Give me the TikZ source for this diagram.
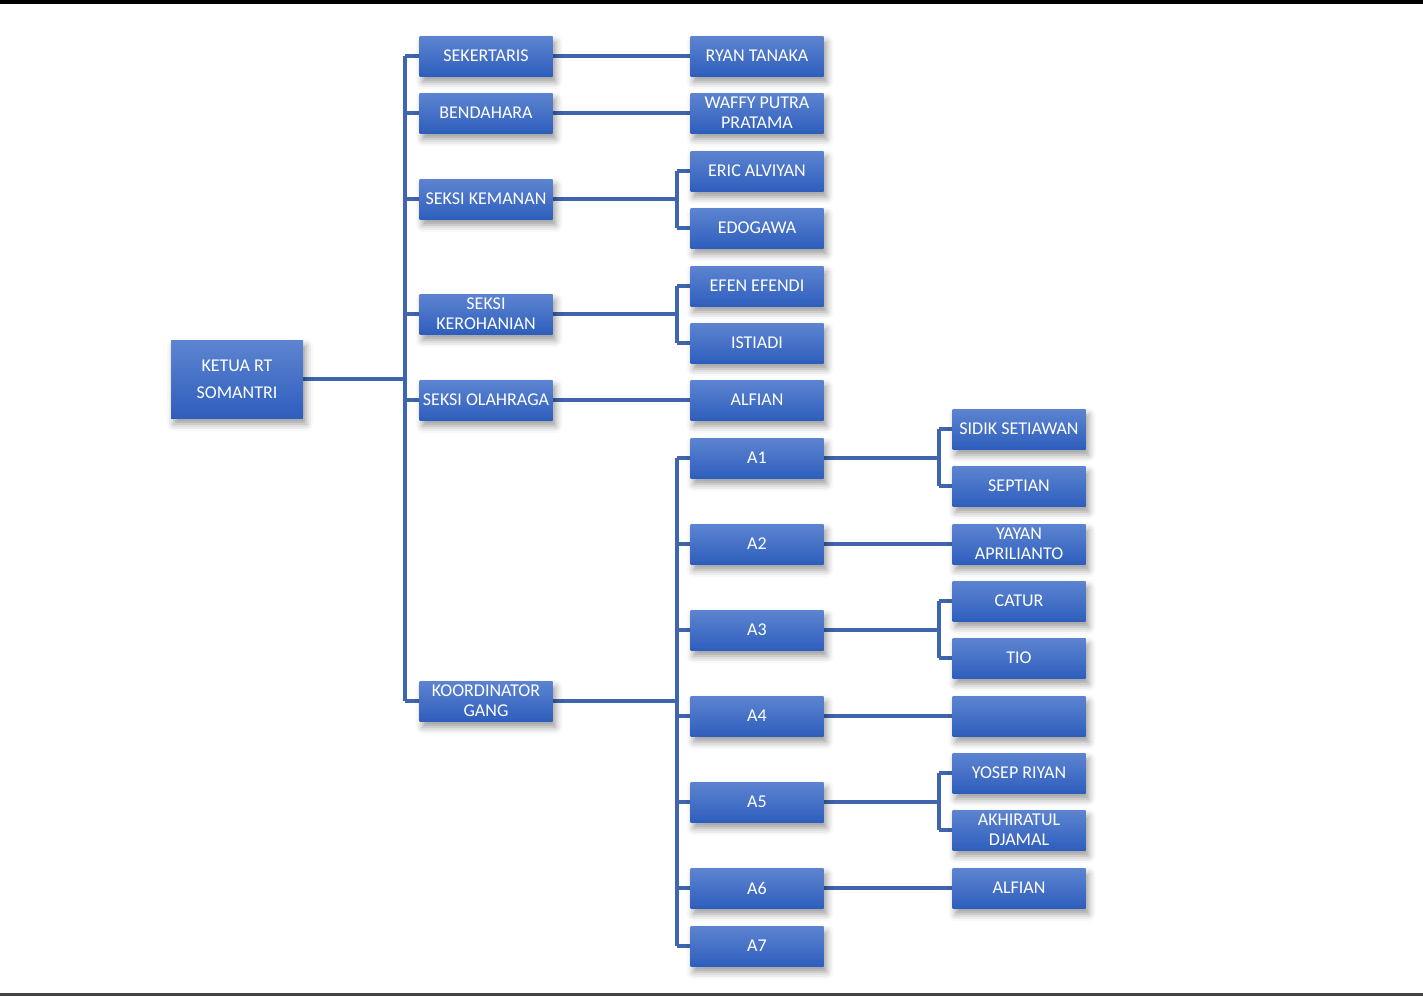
\documentclass[tikz,border=0pt]{standalone}
\usepackage{fontspec}
\setmainfont{Carlito}
\usetikzlibrary{shadows.blur,backgrounds}
\definecolor{boxtop}{RGB}{93,132,208}
\definecolor{boxbot}{RGB}{46,94,189}
\definecolor{linec}{RGB}{63,101,174}
\definecolor{framegray}{RGB}{68,68,68}
\tikzset{
  orgbox/.style={rectangle, minimum width=133pt, minimum height=40pt, inner sep=0pt,
    top color=boxtop, bottom color=boxbot, text=white, align=center,
    font=\fontsize{18}{20}\selectfont,
    blur shadow={shadow xshift=3pt, shadow yshift=-6pt, shadow blur radius=7pt, shadow opacity=40}},
  conn/.style={draw=linec, line width=3.6pt}
}
\begin{document}
\begin{tikzpicture}[x=1pt,y=-1pt]
\useasboundingbox (0,0) rectangle (1423,996);
\fill[black] (0,0) rectangle (1423,4);
\fill[framegray] (0,993) rectangle (1423,996);
% column 1
\node[orgbox, minimum width=132pt, minimum height=78pt, font=\fontsize{18}{27}\selectfont] (ketua) at (237,379) {KETUA RT\\SOMANTRI};
% column 2
\node[orgbox] (sek) at (486,56) {SEKERTARIS};
\node[orgbox] (ben) at (486,113) {BENDAHARA};
\node[orgbox] (kem) at (486,199) {SEKSI KEMANAN};
\node[orgbox] (ker) at (486,314) {SEKSI\\KEROHANIAN};
\node[orgbox] (ola) at (486,400) {SEKSI OLAHRAGA};
\node[orgbox] (koo) at (486,701) {KOORDINATOR\\GANG};
% column 3
\node[orgbox] (ryan) at (757,56) {RYAN TANAKA};
\node[orgbox] (waffy) at (757,113) {WAFFY PUTRA\\PRATAMA};
\node[orgbox] (eric) at (757,171) {ERIC ALVIYAN};
\node[orgbox] (edo) at (757,228) {EDOGAWA};
\node[orgbox] (efen) at (757,286) {EFEN EFENDI};
\node[orgbox] (isti) at (757,343) {ISTIADI};
\node[orgbox] (alf1) at (757,400) {ALFIAN};
\node[orgbox] (a1) at (757,458) {A1};
\node[orgbox] (a2) at (757,544) {A2};
\node[orgbox] (a3) at (757,630) {A3};
\node[orgbox] (a4) at (757,716) {A4};
\node[orgbox] (a5) at (757,802) {A5};
\node[orgbox] (a6) at (757,888) {A6};
\node[orgbox] (a7) at (757,946) {A7};
% column 4
\node[orgbox] (sidik) at (1019,429) {SIDIK SETIAWAN};
\node[orgbox] (sept) at (1019,486) {SEPTIAN};
\node[orgbox] (yayan) at (1019,544) {YAYAN\\APRILIANTO};
\node[orgbox] (catur) at (1019,601) {CATUR};
\node[orgbox] (tio) at (1019,658) {TIO};
\node[orgbox] (blank) at (1019,716) {};
\node[orgbox] (yosep) at (1019,773) {YOSEP RIYAN};
\node[orgbox] (akh) at (1019,830) {AKHIRATUL\\DJAMAL};
\node[orgbox] (alf2) at (1019,888) {ALFIAN};
% bus coordinates
\coordinate (busA) at (405,0);
\coordinate (busB) at (677,0);
\coordinate (busC) at (939,0);
\begin{scope}[on background layer]
% level 1 -> 2
\draw[conn] (ketua.east) -- (ketua.east -| busA);
\draw[conn] (sek.west -| busA) -- (koo.west -| busA);
\foreach \n in {sek,ben,kem,ker,ola,koo} \draw[conn] (\n.west) -- (\n.west -| busA);
% level 2 -> 3
\draw[conn] (sek.east) -- (ryan.west);
\draw[conn] (ben.east) -- (waffy.west);
\draw[conn] (ola.east) -- (alf1.west);
\draw[conn] (kem.east) -- (kem.east -| busB);
\draw[conn] (eric.west -| busB) -- (edo.west -| busB);
\draw[conn] (eric.west) -- (eric.west -| busB);
\draw[conn] (edo.west) -- (edo.west -| busB);
\draw[conn] (ker.east) -- (ker.east -| busB);
\draw[conn] (efen.west -| busB) -- (isti.west -| busB);
\draw[conn] (efen.west) -- (efen.west -| busB);
\draw[conn] (isti.west) -- (isti.west -| busB);
\draw[conn] (koo.east) -- (koo.east -| busB);
\draw[conn] (a1.west -| busB) -- (a7.west -| busB);
\foreach \n in {a1,a2,a3,a4,a5,a6,a7} \draw[conn] (\n.west) -- (\n.west -| busB);
% level 3 -> 4
\draw[conn] (a1.east) -- (a1.east -| busC);
\draw[conn] (sidik.west -| busC) -- (sept.west -| busC);
\draw[conn] (sidik.west) -- (sidik.west -| busC);
\draw[conn] (sept.west) -- (sept.west -| busC);
\draw[conn] (a2.east) -- (yayan.west);
\draw[conn] (a3.east) -- (a3.east -| busC);
\draw[conn] (catur.west -| busC) -- (tio.west -| busC);
\draw[conn] (catur.west) -- (catur.west -| busC);
\draw[conn] (tio.west) -- (tio.west -| busC);
\draw[conn] (a4.east) -- (blank.west);
\draw[conn] (a5.east) -- (a5.east -| busC);
\draw[conn] (yosep.west -| busC) -- (akh.west -| busC);
\draw[conn] (yosep.west) -- (yosep.west -| busC);
\draw[conn] (akh.west) -- (akh.west -| busC);
\draw[conn] (a6.east) -- (alf2.west);
\end{scope}
\end{tikzpicture}
\end{document}
